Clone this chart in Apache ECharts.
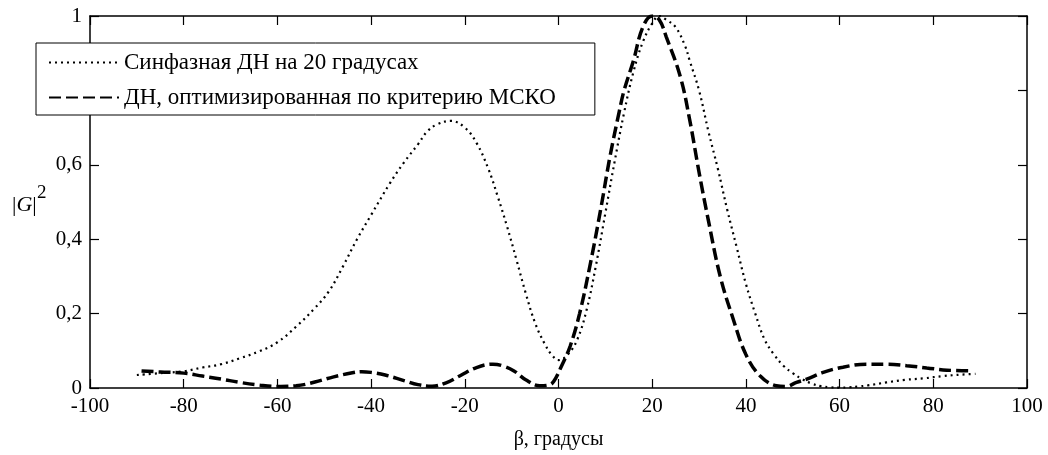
<!DOCTYPE html>
<html>
<head>
<meta charset="utf-8">
<script src="https://cdn.jsdelivr.net/npm/echarts@6/dist/echarts.min.js"></script>
<style>
  html, body { margin: 0; padding: 0; background: #fff; }
  #chart { width: 1048px; height: 455px; }
</style>
</head>
<body>
<div id="chart"></div>
<script>
// in-phase pattern steered to 20 degrees (dotted)
var inPhaseAngles = [-90, -85, -80, -76, -72, -68, -64, -60, -56, -52, -49, -46, -43, -40, -36, -33, -30, -28, -26, -23, -20, -17.5, -15, -13, -11, -9, -7, -5, -3, -1.5, 0, 2, 4, 6, 8, 10, 12, 14, 16, 18, 20, 21.5, 23, 25, 27, 28, 30, 32, 34, 36, 38, 40, 42, 44, 46, 48, 50, 52, 54, 56, 58, 60, 62, 64, 66, 70, 74, 78, 82, 86, 89];
var inPhaseValues = [0.035, 0.04, 0.045, 0.055, 0.064, 0.08, 0.098, 0.123, 0.165, 0.215, 0.26, 0.327, 0.4, 0.465, 0.55, 0.606, 0.655, 0.69, 0.708, 0.718, 0.7, 0.659, 0.59, 0.516, 0.435, 0.346, 0.255, 0.175, 0.12, 0.09, 0.075, 0.09, 0.13, 0.21, 0.33, 0.47, 0.61, 0.74, 0.85, 0.93, 0.98, 1.0, 0.99, 0.97, 0.92, 0.88, 0.8, 0.69, 0.59, 0.48, 0.38, 0.28, 0.2, 0.13, 0.09, 0.06, 0.04, 0.024, 0.012, 0.005, 0.002, 0.001, 0.002, 0.004, 0.007, 0.015, 0.022, 0.026, 0.032, 0.036, 0.038];

// pattern optimised by MSE criterion (dashed)
var mskoAngles = [-89, -85, -80, -76, -72, -68, -64, -60, -56, -52, -48, -44, -42, -40, -37, -33, -30, -27, -24, -21, -17.5, -14, -12, -9.5, -7, -4, -2, -1, 0.5, 2.5, 4.5, 6.7, 9, 11, 13, 14, 16, 18, 20, 21.5, 23, 26, 28, 30, 32, 34.5, 37.3, 40, 43, 46.5, 48.5, 50.8, 53, 56.5, 60.7, 65.8, 70, 74.3, 78.6, 82.9, 88];
var mskoValues = [0.046, 0.043, 0.04, 0.032, 0.024, 0.015, 0.008, 0.004, 0.006, 0.016, 0.03, 0.041, 0.044, 0.042, 0.035, 0.02, 0.009, 0.005, 0.014, 0.033, 0.055, 0.064, 0.06, 0.046, 0.022, 0.006, 0.008, 0.018, 0.055, 0.113, 0.2, 0.328, 0.48, 0.623, 0.745, 0.8, 0.88, 0.97, 1.0, 0.99, 0.944, 0.837, 0.721, 0.58, 0.45, 0.301, 0.185, 0.09, 0.033, 0.006, 0.004, 0.015, 0.024, 0.042, 0.056, 0.064, 0.064, 0.06, 0.054, 0.048, 0.046];

var seriesNames = ["Синфазная ДН на 20 градусах", "ДН, оптимизированная по критерию МСКО"];
var xTicks = { min: -100, max: 100, step: 20 };
var yTicks = { min: 0, max: 1, step: 0.2 };

var serif = '"Liberation Serif", "DejaVu Serif", serif';

function pairs(xs, ys) {
  return xs.map(function(x, i) { return [x, ys[i]]; });
}

// box axis: same look on all four sides, ticks pointing in
function frameAxis(extra) {
  var ax = {
    type: "value",
    axisLine: { show: true, onZero: false, lineStyle: { color: "#000", width: 1.5 } },
    axisTick: { show: true, inside: true, length: 9, lineStyle: { color: "#000", width: 1.2 } },
    splitLine: { show: false }
  };
  for (var k in extra) ax[k] = extra[k];
  return ax;
}

var chart = echarts.init(document.getElementById("chart"), null, { renderer: "canvas" });

var option = {
  animation: false,
  backgroundColor: "#fff",
  textStyle: { fontFamily: serif, color: "#000" },
  grid: { left: 90, right: 21, top: 16, bottom: 66 },
  legend: {
    orient: "vertical",
    left: 36,
    top: 43,
    padding: [8, 39, 6, 12],
    itemWidth: 70,
    itemHeight: 14,
    itemGap: 12,
    backgroundColor: "#fff",
    borderColor: "#000",
    borderWidth: 1,
    itemStyle: { opacity: 0 },
    textStyle: { fontFamily: serif, fontSize: 23, color: "#000" },
    data: seriesNames
  },
  xAxis: [
    frameAxis({
      min: xTicks.min,
      max: xTicks.max,
      interval: xTicks.step,
      name: "β, градусы",
      nameLocation: "middle",
      nameGap: 42,
      nameTextStyle: { fontFamily: serif, fontSize: 20, color: "#000" },
      axisLabel: { fontFamily: serif, fontSize: 21, color: "#000", margin: 8 }
    }),
    frameAxis({
      position: "top",
      min: xTicks.min,
      max: xTicks.max,
      interval: xTicks.step,
      axisLabel: { show: false }
    })
  ],
  yAxis: [
    frameAxis({
      position: "left",
      min: yTicks.min,
      max: yTicks.max,
      interval: yTicks.step,
      axisLabel: {
        fontFamily: serif,
        fontSize: 21,
        color: "#000",
        margin: 8,
        formatter: function(v) { return String(Math.round(v * 10) / 10).replace(".", ","); }
      }
    }),
    frameAxis({
      position: "right",
      min: yTicks.min,
      max: yTicks.max,
      interval: yTicks.step,
      axisLabel: { show: false }
    })
  ],
  graphic: [
    {
      type: "text",
      left: 12,
      top: 194,
      style: {
        text: "|{g|G}|",
        font: '22px "Liberation Serif"',
        fill: "#000",
        rich: { g: { fontStyle: "italic", fontSize: 22, fontFamily: serif, fill: "#000" } }
      }
    },
    {
      type: "text",
      left: 37,
      top: 184,
      style: { text: "2", font: '19px "Liberation Serif"', fill: "#000" }
    }
  ],
  series: [
    {
      name: seriesNames[0],
      type: "line",
      smooth: 0.4,
      symbol: "none",
      lineStyle: { color: "#000", width: 2.2, type: [2, 4] },
      itemStyle: { color: "#000" },
      data: pairs(inPhaseAngles, inPhaseValues)
    },
    {
      name: seriesNames[1],
      type: "line",
      smooth: 0.4,
      symbol: "none",
      lineStyle: { color: "#000", width: 3.5, type: [12, 5] },
      itemStyle: { color: "#000" },
      data: pairs(mskoAngles, mskoValues)
    }
  ]
};

chart.setOption(option);
</script>
</body>
</html>
